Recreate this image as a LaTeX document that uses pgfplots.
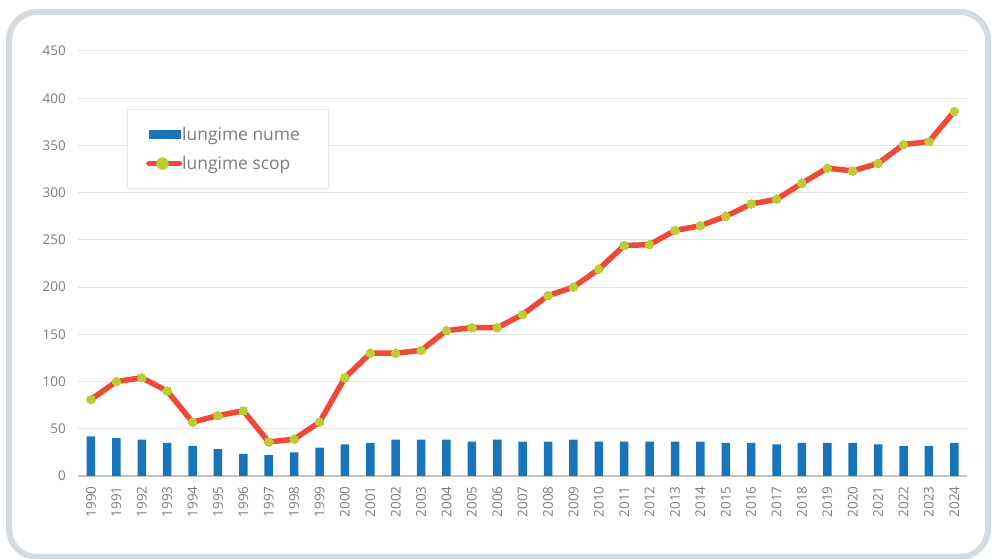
\documentclass[border=0pt]{standalone}
\usepackage{fontspec}
\setmainfont{Open Sans}
\usepackage{pgfplots}
\pgfplotsset{compat=1.18}
\definecolor{barblue}{RGB}{24,117,188}
\definecolor{linered}{RGB}{240,73,55}
\definecolor{mkgreen}{RGB}{190,204,52}
\definecolor{framec}{RGB}{211,219,225}
\definecolor{gridc}{RGB}{228,228,228}
\definecolor{tickc}{RGB}{125,125,125}
\begin{document}
\begin{tikzpicture}
\useasboundingbox (0bp,0bp) rectangle (992bp,559bp);
\fill[white] (0bp,0bp) rectangle (992bp,559bp);
\draw[framec, line width=6bp, rounded corners=28bp] (9bp,2bp) rectangle (988bp,547bp);
\begin{axis}[
  at={(78.3bp,83bp)}, anchor=south west, scale only axis,
  width=888.7bp, height=425bp,
  xmin=1989.5, xmax=2024.5, ymin=0, ymax=450,
  xtick={1990,1991,...,2024}, ytick={0,50,...,450},
  /pgf/number format/assume math mode=true,
  /pgf/number format/1000 sep={},
  axis x line*=bottom, axis y line*=left,
  y axis line style={draw=none},
  x axis line style={draw=gridc!85!black, line width=1.5bp, -},
  major tick length=0pt,
  ymajorgrids, grid style={gridc, line width=1bp},
  tick label style={color=tickc, font=\fontsize{13.5}{15}\selectfont},
  xticklabel style={rotate=90, anchor=east},
  xticklabel shift={7bp},
  yticklabel shift={9bp},
  legend style={at={(0.0545,0.8635)}, anchor=north west, draw=gridc, line width=1bp,
    fill=white, font=\fontsize{17.5}{19}\selectfont, text=tickc,
    inner xsep=19bp, inner ysep=18bp, row sep=14bp,
    nodes={inner sep=0pt}},
  legend cell align=left,
]
\addplot[ybar, bar width=8.5bp, fill=barblue, draw=none,
  legend image code/.code={\fill[barblue] (2.3bp,-4.5bp) rectangle (34.3bp,4.5bp); \path (0bp,0bp) (36bp,0bp);}]
 coordinates {
 (1990,42) (1991,40) (1992,38.5) (1993,35) (1994,32) (1995,28.5) (1996,23.5)
 (1997,22) (1998,25) (1999,30) (2000,33.5) (2001,35) (2002,38.5) (2003,38.5)
 (2004,38.5) (2005,36.5) (2006,38.5) (2007,36.5) (2008,36.5) (2009,38.5)
 (2010,36.5) (2011,36.5) (2012,36.5) (2013,36.5) (2014,36.5) (2015,35)
 (2016,35) (2017,33.5) (2018,35) (2019,35) (2020,35) (2021,33.5) (2022,32)
 (2023,32) (2024,35)
 };
\addlegendentry{lungime nume\hspace*{10bp}}
\addplot[linered, line width=5.5bp, line join=round, line cap=round,
  mark=*, mark size=4.3bp, mark options={fill=mkgreen, draw=mkgreen, line width=0pt},
  legend image code/.code={\draw[linered, line width=5.5bp, line cap=round] (2.75bp,0bp) -- (33.25bp,0bp); \fill[mkgreen] (16.3bp,0bp) circle (3.6bp);}]
 coordinates {
 (1990,81) (1991,100) (1992,104) (1993,90) (1994,57) (1995,64) (1996,69)
 (1997,36) (1998,39) (1999,57) (2000,104) (2001,130) (2002,130) (2003,133)
 (2004,154) (2005,157) (2006,157) (2007,171) (2008,191) (2009,200)
 (2010,219) (2011,244) (2012,245) (2013,260) (2014,265) (2015,275)
 (2016,288) (2017,293) (2018,310) (2019,326) (2020,323) (2021,331)
 (2022,351) (2023,354) (2024,386)
 };
\addlegendentry{lungime scop}
\end{axis}
\end{tikzpicture}
\end{document}
